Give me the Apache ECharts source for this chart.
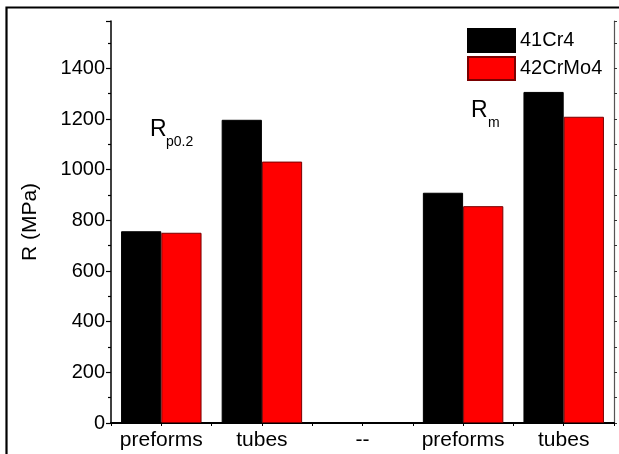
<!DOCTYPE html>
<html>
<head>
<meta charset="utf-8">
<script src="https://cdn.jsdelivr.net/npm/echarts@6/dist/echarts.min.js"></script>
<style>
html,body{margin:0;padding:0;background:#fff;}
#c{width:619px;height:454px;}
</style>
</head>
<body>
<div id="c"></div>
<script>
var categories = ['preforms', 'tubes', '--', 'preforms', 'tubes'];
var seriesNames = ['41Cr4', '42CrMo4'];
var values41Cr4 = [757, 1197, null, 909, 1307];
var values42CrMo4 = [751, 1032, null, 856, 1209];
var yTicks = [0, 200, 400, 600, 800, 1000, 1200, 1400];

var FONT = '"Liberation Sans", Arial, sans-serif';
var chart = echarts.init(document.getElementById('c'), null, {renderer: 'canvas'});
var option = {
  backgroundColor: '#fff',
  animation: false,
  textStyle: {fontFamily: FONT},
  grid: {left: 111, top: 21, width: 503, height: 402, containLabel: false},
  legend: {
    orient: 'vertical', left: 467, top: 28, padding: 0,
    itemWidth: 47, itemHeight: 23, itemGap: 3,
    icon: 'rect',
    textStyle: {fontSize: 20, color: '#000', fontFamily: FONT},
    data: seriesNames
  },
  xAxis: [{
    type: 'category', data: categories, position: 'bottom',
    axisLine: {lineStyle: {color: '#000', width: 2}},
    axisTick: {show: false},
    axisLabel: {fontSize: 21, color: '#000', margin: 7, fontFamily: FONT, interval: 0, hideOverlap: false},
    splitLine: {show: false}
  }, {
    type: 'value', position: 'top', min: 0, max: 10, interval: 1,
    axisLine: {show: true, lineStyle: {color: '#000', width: 1.5}},
    axisTick: {show: true, inside: true, length: 3, lineStyle: {color: '#000'}},
    axisLabel: {show: false}, splitLine: {show: false}
  }],
  yAxis: [{
    type: 'value', min: 0, max: 1587, interval: 200, position: 'left',
    name: 'R (MPa)', nameLocation: 'middle', nameGap: 70,
    nameTextStyle: {fontSize: 21, color: '#000', fontFamily: FONT},
    axisLine: {show: true, lineStyle: {color: '#000', width: 1.5}},
    axisTick: {show: true, length: 5, lineStyle: {color: '#000', width: 1.2}},
    minorTick: {show: true, splitNumber: 2, length: 3, lineStyle: {color: '#000', width: 1.2}},
    axisLabel: {fontSize: 20, color: '#000', margin: 6, fontFamily: FONT, showMaxLabel: false,
      formatter: function (v) { return yTicks.indexOf(v) >= 0 ? String(v) : ''; }},
    splitLine: {show: false}
  }, {
    type: 'value', min: 0, max: 1587, interval: 200, position: 'right',
    axisLine: {show: true, lineStyle: {color: '#555', width: 1.2}},
    axisTick: {show: true, length: 3, lineStyle: {color: '#333'}},
    minorTick: {show: true, splitNumber: 2, length: 3, lineStyle: {color: '#333'}},
    axisLabel: {show: false},
    splitLine: {show: false}
  }],
  series: [{
    name: seriesNames[0], type: 'bar', xAxisIndex: 0, yAxisIndex: 0,
    data: values41Cr4, barGap: '0%', barCategoryGap: '20%',
    itemStyle: {color: '#000', borderColor: '#000', borderWidth: 1}
  }, {
    name: seriesNames[1], type: 'bar', xAxisIndex: 0, yAxisIndex: 0,
    data: values42CrMo4, barGap: '0%', barCategoryGap: '20%',
    itemStyle: {color: '#ff0000', borderColor: '#7a0000', borderWidth: 1}
  }],
  graphic: [
    {type: 'rect', shape: {x: 6.5, y: 7.5, width: 700, height: 600},
     style: {fill: null, stroke: '#000', lineWidth: 2.2}, silent: true, z: 100},
    {type: 'text', left: 150, top: 118, style: {text: 'R', fontSize: 23, fill: '#000', fontFamily: FONT}},
    {type: 'text', left: 166, top: 135, style: {text: 'p0.2', fontSize: 14, fill: '#000', fontFamily: FONT}},
    {type: 'text', left: 471, top: 99, style: {text: 'R', fontSize: 23, fill: '#000', fontFamily: FONT}},
    {type: 'text', left: 488, top: 116, style: {text: 'm', fontSize: 14, fill: '#000', fontFamily: FONT}}
  ]
};
chart.setOption(option);
</script>
</body>
</html>
